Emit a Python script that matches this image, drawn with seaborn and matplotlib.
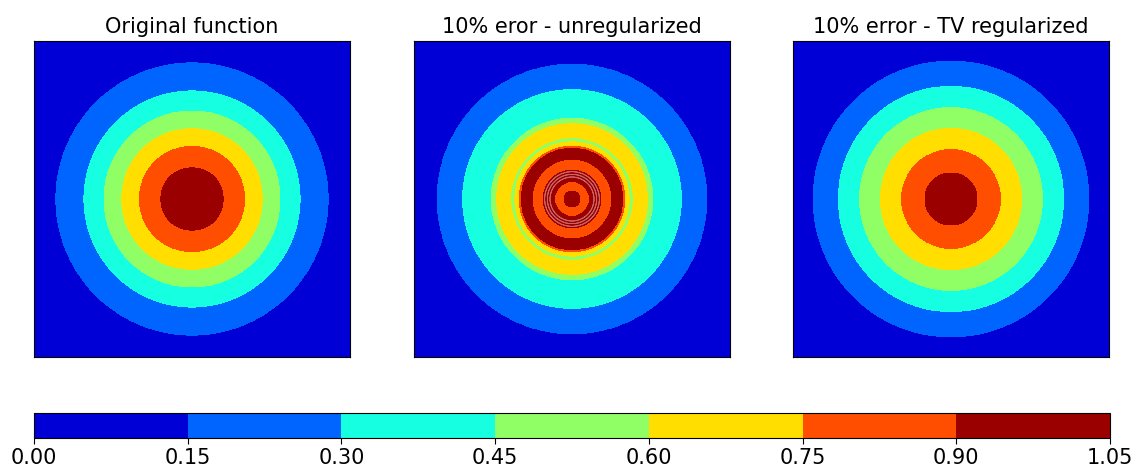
import numpy as np
import matplotlib
matplotlib.use('Agg')
import matplotlib.pyplot as plt
import seaborn as sns

sns.set_style('white', {'axes.edgecolor': 'black', 'text.color': 'black',
                        'xtick.color': 'black', 'ytick.color': 'black'})
plt.rcParams['font.family'] = ['DejaVu Sans']

# contour levels shared by all panels
levels = [0.00, 0.15, 0.30, 0.45, 0.60, 0.75, 0.90, 1.05]

# radial band profiles (outer radius of each band, value in band)
# domain is [-1, 1] in both directions, radius measured from the centre
orig_edges = [0.198, 0.333, 0.445, 0.557, 0.684, 0.861, 2.0]
orig_values = [0.97, 0.82, 0.68, 0.52, 0.38, 0.22, 0.07]

# unregularized: oscillating core, faint overshoot rings (>1.05) inside one red band
noisy_edges = [0.015, 0.022, 0.051, 0.110, 0.138, 0.140, 0.155, 0.157, 0.172, 0.174,
               0.182, 0.253, 0.321, 0.334, 0.362, 0.388, 0.477, 0.511, 0.692, 0.853, 2.0]
noisy_values = [0.97, 0.85, 0.97, 0.85, 0.97, 1.10, 0.97, 1.10, 0.97, 1.10,
                0.97, 0.85, 0.97, 0.82, 0.68, 0.52, 0.68, 0.52, 0.38, 0.22, 0.07]

tv_edges = [0.165, 0.312, 0.447, 0.578, 0.713, 0.873, 2.0]
tv_values = [0.97, 0.82, 0.68, 0.52, 0.38, 0.22, 0.07]

titles = ['Original function', '10% eror - unregularized', '10% error - TV regularized']

# grid
n = 1000
x = np.linspace(-1, 1, n)
X, Y = np.meshgrid(x, x)
R = np.hypot(X, Y)


def field(edges, values):
    idx = np.searchsorted(np.array(edges), R)
    return np.array(values)[idx]


fields = [field(orig_edges, orig_values),
          field(noisy_edges, noisy_values),
          field(tv_edges, tv_values)]

fig = plt.figure(figsize=(11.31, 4.68), dpi=100)
lefts = [34 / 1131, 414 / 1131, 793 / 1131]
bottom = 1 - 357 / 468
h = 316 / 468
w = 316 / 1131

cs = None
for left, Z, title in zip(lefts, fields, titles):
    ax = fig.add_axes([left, bottom, w, h])
    cs = ax.contourf(X, Y, Z, levels=levels, cmap='jet', vmin=0, vmax=1.0)
    if Z.max() > levels[-1]:
        # overshoot above the top level shows up as thin pale rings
        ax.contour(X, Y, Z, levels=[levels[-1]], colors='#c86464', linewidths=0.6)
    ax.set_xticks([])
    ax.set_yticks([])
    ax.set_xlim(-1, 1)
    ax.set_ylim(-1, 1)
    for s in ax.spines.values():
        s.set_visible(True)
        s.set_color('black')
        s.set_linewidth(0.8)
    ax.set_title(title, fontsize=15, color='black')

cax = fig.add_axes([34 / 1131, 1 - 438 / 468, 1076 / 1131, 25 / 468])
cb = fig.colorbar(cs, cax=cax, orientation='horizontal', ticks=levels, format='%.2f')
cb.outline.set_edgecolor('black')
cb.outline.set_linewidth(0.8)
cax.tick_params(axis='x', bottom=True, length=4, width=0.8, labelsize=15,
                color='black', labelcolor='black')

fig.savefig('out.png', dpi=100)
